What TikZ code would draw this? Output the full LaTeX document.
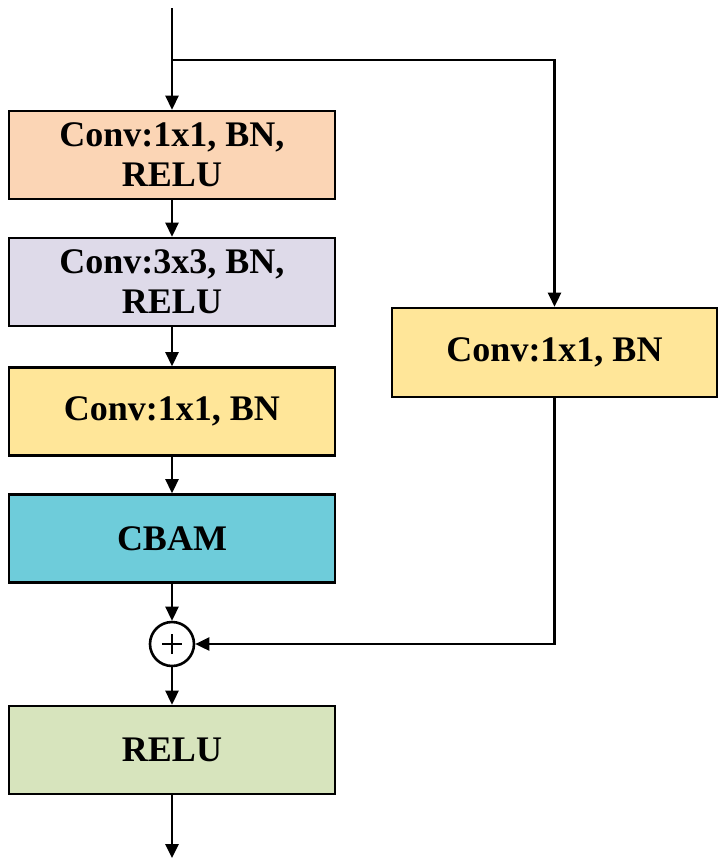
\documentclass[tikz,border=0pt]{standalone}
\usepackage{fontspec}
\setmainfont{Liberation Serif}
\usetikzlibrary{arrows.meta}
\definecolor{cpeach}{HTML}{FBD5B5}
\definecolor{clav}{HTML}{DEDAE9}
\definecolor{cyell}{HTML}{FFE699}
\definecolor{ccyan}{HTML}{6ECCDA}
\definecolor{cgreen}{HTML}{D7E4BD}
\begin{document}
\begin{tikzpicture}[x=1pt,y=-1pt,
  blk/.style={draw=black,line width=2.6pt,minimum width=326pt,minimum height=88pt,
    font=\fontsize{36}{40}\selectfont\bfseries,align=center,inner sep=0pt},
  conn/.style={line width=2.6pt,-{Triangle[length=14pt,width=13pt]}},
  plain/.style={line width=2.6pt}]
\useasboundingbox (0,0) rectangle (727,868);
\node[blk,fill=cpeach] (b1) at (172,155) {Conv:1x1, BN,\\RELU};
\node[blk,fill=clav] (b2) at (172,282) {Conv:3x3, BN,\\RELU};
\node[blk,fill=cyell] (b3) at (172,411.5) {Conv:1x1, BN};
\node[blk,fill=ccyan] (b4) at (172,538.5) {CBAM};
\node[draw=black,line width=2.6pt,circle,minimum size=44pt,inner sep=0pt,fill=white] (add) at (172,644) {};
\draw[line width=1.8pt] ([xshift=-10pt]add.center) -- ([xshift=10pt]add.center);
\draw[line width=1.8pt] ([yshift=-10pt]add.center) -- ([yshift=10pt]add.center);
\node[blk,fill=cgreen] (b5) at (172,750) {RELU};
\node[blk,fill=cyell,minimum width=325pt,minimum height=89pt] (r1) at (554.5,352.5) {Conv:1x1, BN};
\coordinate (in) at (172,8);
\coordinate (split) at (172,60);
\coordinate (turn) at (554.5,60);
\coordinate (turn2) at (554.5,644);
\coordinate (out) at (172,858);
\draw[plain] (in) -- (split);
\draw[conn] (split) -- (b1);
\draw[conn] (b1) -- (b2);
\draw[conn] (b2) -- (b3);
\draw[conn] (b3) -- (b4);
\draw[conn] (b4) -- (add);
\draw[conn] (add) -- (b5);
\draw[conn] (b5) -- (out);
\draw[conn] (split) -- (turn) -- (r1);
\draw[conn] (r1) -- (turn2) -- (add);
\end{tikzpicture}
\end{document}
